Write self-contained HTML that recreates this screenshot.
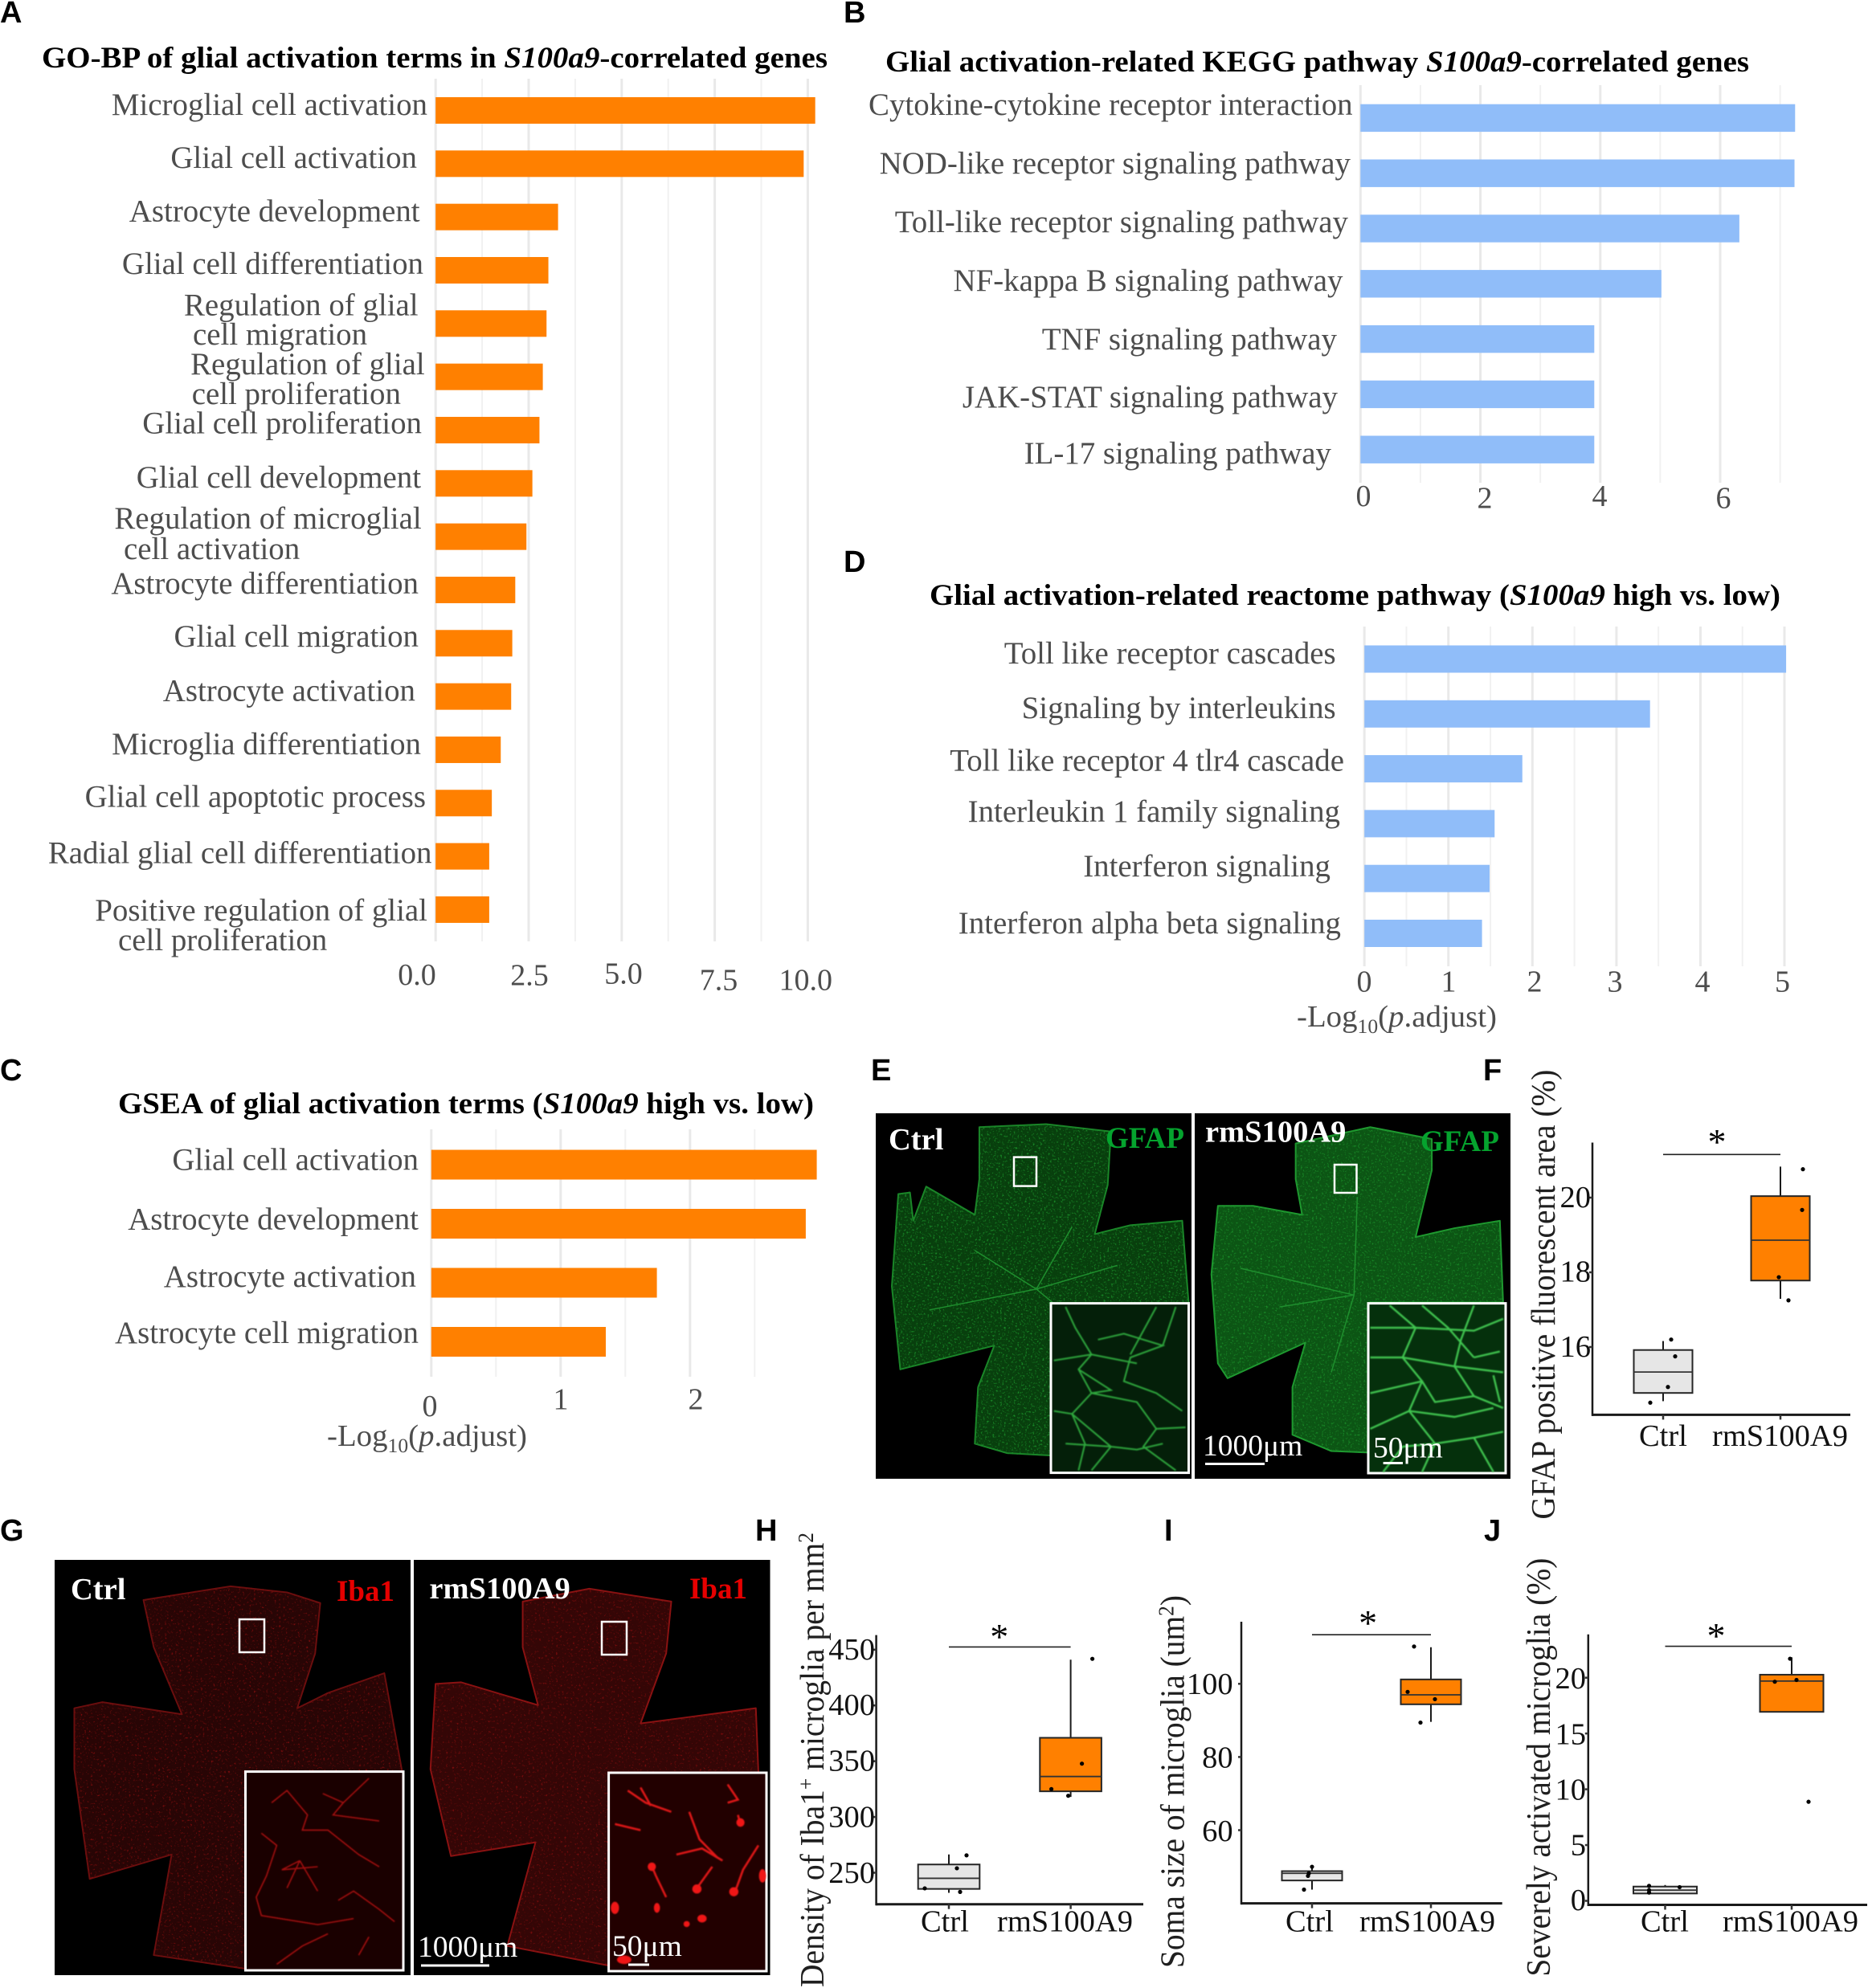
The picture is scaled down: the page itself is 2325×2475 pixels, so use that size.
<!DOCTYPE html>
<html lang="en">
<head>
<meta charset="utf-8">
<title>S100a9 glial activation figure</title>
<style>
html,body{margin:0;padding:0;background:#fff;}
svg{display:block;font-family:"Liberation Serif",serif;}
.letter{font-family:"Liberation Sans",sans-serif;font-weight:700;font-size:38px;fill:#000;}
.title{font-weight:700;font-size:36.5px;fill:#000;}
.cat{font-size:38.9px;fill:#4d4d4d;}
.tick{font-size:38px;fill:#4d4d4d;}
.axt{font-size:38px;fill:#4d4d4d;}
.bt{font-size:38.5px;fill:#111;}
.yt{font-size:42px;fill:#1f1f1f;}
.star{font-size:46px;fill:#000;text-anchor:middle;}
.w{font-weight:700;font-size:38.5px;fill:#fff;}
.gf{font-weight:700;font-size:37px;fill:#05a32e;}
.ib{font-weight:700;font-size:37px;fill:#e60000;}
.sc{font-size:37.5px;fill:#fff;}
</style>
</head>
<body>
<svg xmlns="http://www.w3.org/2000/svg" id="figure" width="2325" height="2475" viewBox="0 0 2325 2475">
<defs>
<filter id="speckle-green" color-interpolation-filters="sRGB">
<feTurbulence type="fractalNoise" baseFrequency="0.42" numOctaves="2" seed="3" result="n"/>
<feColorMatrix in="n" type="matrix" values="0 0 0 0 0.1  0 0 0 0 0.55  0 0 0 0 0.16  4 0 0 0 -2.25" result="k"/>
<feComposite in="k" in2="SourceAlpha" operator="in" result="c"/>
<feMerge><feMergeNode in="SourceGraphic"/><feMergeNode in="c"/></feMerge>
</filter>
<filter id="speckle-red" color-interpolation-filters="sRGB">
<feTurbulence type="fractalNoise" baseFrequency="0.38" numOctaves="2" seed="8" result="n"/>
<feColorMatrix in="n" type="matrix" values="0 0 0 0 0.5  0 0 0 0 0.05  0 0 0 0 0.05  4 0 0 0 -2.4" result="k"/>
<feComposite in="k" in2="SourceAlpha" operator="in" result="c"/>
<feMerge><feMergeNode in="SourceGraphic"/><feMergeNode in="c"/></feMerge>
</filter>
<filter id="soft" x="-5%" y="-5%" width="110%" height="110%"><feGaussianBlur stdDeviation="0.7"/></filter>
</defs>
<rect x="0" y="0" width="2325" height="2475" fill="#fff"/>

<g id="marks-a"></g>
<g id="marks-b"></g>
<g id="marks-c"></g>
<g id="marks-d"></g>

<!-- panel letters -->
<text class="letter" x="0" y="28">A</text>
<text class="letter" x="1050" y="28">B</text>
<text class="letter" x="0" y="1345">C</text>
<text class="letter" x="1050" y="712">D</text>
<text class="letter" x="1084" y="1345">E</text>
<text class="letter" x="1846" y="1345">F</text>
<text class="letter" x="0" y="1918">G</text>
<text class="letter" x="940" y="1918">H</text>
<text class="letter" x="1449" y="1918">I</text>
<text class="letter" x="1847" y="1918">J</text>

<!-- titles -->
<text class="title" x="52" y="84" textLength="978" lengthAdjust="spacingAndGlyphs">GO-BP of glial activation terms in <tspan font-style="italic">S100a9</tspan>-correlated genes</text>
<text class="title" x="1102" y="89" textLength="1075" lengthAdjust="spacingAndGlyphs">Glial activation-related KEGG pathway <tspan font-style="italic">S100a9</tspan>-correlated genes</text>
<text class="title" x="147" y="1386" textLength="866" lengthAdjust="spacingAndGlyphs">GSEA of glial activation terms (<tspan font-style="italic">S100a9</tspan> high vs. low)</text>
<text class="title" x="1157" y="753" textLength="1059" lengthAdjust="spacingAndGlyphs">Glial activation-related reactome pathway (<tspan font-style="italic">S100a9</tspan> high vs. low)</text>

<!-- chart A labels -->
<g text-anchor="end" class="cat">
<text x="532" y="143">Microglial cell activation</text>
<text x="519" y="209">Glial cell activation</text>
<text x="522.6" y="275.5">Astrocyte development</text>
<text x="527" y="341">Glial cell differentiation</text>
<text x="520.6" y="392.6">Regulation of glial</text>
<text x="240" y="429" text-anchor="start">cell migration</text>
<text x="528.7" y="466">Regulation of glial</text>
<text x="238.7" y="503" text-anchor="start">cell proliferation</text>
<text x="525" y="539.6">Glial cell proliferation</text>
<text x="524" y="607">Glial cell development</text>
<text x="524.7" y="658">Regulation of microglial</text>
<text x="154" y="696" text-anchor="start">cell activation</text>
<text x="521" y="739">Astrocyte differentiation</text>
<text x="521" y="805">Glial cell migration</text>
<text x="517" y="872.6">Astrocyte activation</text>
<text x="524" y="938.8">Microglia differentiation</text>
<text x="530" y="1004.5">Glial cell apoptotic process</text>
<text x="537.5" y="1074.7">Radial glial cell differentiation</text>
<text x="532" y="1146">Positive regulation of glial</text>
<text x="147" y="1183" text-anchor="start">cell proliferation</text>
</g>
<g class="tick" text-anchor="middle">
<text x="519" y="1226">0.0</text>
<text x="659" y="1226.5">2.5</text>
<text x="776" y="1224.5">5.0</text>
<text x="894.5" y="1232.6">7.5</text>
<text x="1002.7" y="1232.6">10.0</text>
</g>

<!-- chart B labels -->
<g text-anchor="end" class="cat">
<text x="1683.6" y="143">Cytokine-cytokine receptor interaction</text>
<text x="1681" y="216">NOD-like receptor signaling pathway</text>
<text x="1678" y="289">Toll-like receptor signaling pathway</text>
<text x="1671.5" y="362">NF-kappa B signaling pathway</text>
<text x="1664" y="434.8">TNF signaling pathway</text>
<text x="1665" y="507">JAK-STAT signaling pathway</text>
<text x="1657" y="577">IL-17 signaling pathway</text>
</g>
<g class="tick" text-anchor="middle">
<text x="1697" y="630">0</text>
<text x="1848" y="632.6">2</text>
<text x="1991" y="630">4</text>
<text x="2145" y="632.6">6</text>
</g>

<!-- chart C labels -->
<g text-anchor="end" class="cat">
<text x="521" y="1456.7">Glial cell activation</text>
<text x="521" y="1530.7">Astrocyte development</text>
<text x="518" y="1602">Astrocyte activation</text>
<text x="521" y="1672">Astrocyte cell migration</text>
</g>
<g class="tick" text-anchor="middle">
<text x="535" y="1763">0</text>
<text x="698" y="1754.5">1</text>
<text x="866" y="1754.5">2</text>
</g>
<text class="axt" x="407" y="1800" textLength="249" lengthAdjust="spacingAndGlyphs">-Log<tspan font-size="25" dy="8">10</tspan><tspan dy="-8">(</tspan><tspan font-style="italic">p</tspan>.adjust)</text>

<!-- chart D labels -->
<g text-anchor="end" class="cat">
<text x="1662.7" y="826">Toll like receptor cascades</text>
<text x="1662.7" y="894">Signaling by interleukins</text>
<text x="1673" y="959.7">Toll like receptor 4 tlr4 cascade</text>
<text x="1668" y="1023">Interleukin 1 family signaling</text>
<text x="1656" y="1091">Interferon signaling</text>
<text x="1669" y="1162">Interferon alpha beta signaling</text>
</g>
<g class="tick" text-anchor="middle">
<text x="1698" y="1234.5">0</text>
<text x="1803" y="1234.5">1</text>
<text x="1910" y="1234.5">2</text>
<text x="2010" y="1234.5">3</text>
<text x="2119" y="1234.5">4</text>
<text x="2218.5" y="1234.5">5</text>
</g>
<text class="axt" x="1614" y="1278" textLength="249" lengthAdjust="spacingAndGlyphs">-Log<tspan font-size="25" dy="8">10</tspan><tspan dy="-8">(</tspan><tspan font-style="italic">p</tspan>.adjust)</text>

<!-- panel E images -->
<g>
<rect x="1090" y="1386" width="393" height="455" fill="#000"/>
<rect x="1487" y="1386" width="393" height="455" fill="#000"/>
<g filter="url(#speckle-green)"><g transform="translate(1060,1320) scale(0.8068,0.37)"><polygon fill="#083f0d" stroke="#1a8528" stroke-width="2" stroke-linejoin="round" vector-effect="non-scaling-stroke" points="197,225 300,215 400,240 395,420 375,585 430,555 510,540 520,820 310,820 310,1330 240,1322 190,1290 195,1100 220,960 75,1040 62,760 72,450 90,445 95,540 115,425 190,520 197,400"/></g></g>
<g filter="url(#speckle-green)"><g transform="translate(1060,1320) scale(0.8068,0.37)"><polygon fill="#0c5514" stroke="#1f9a30" stroke-width="2" stroke-linejoin="round" vector-effect="non-scaling-stroke" points="685,280 800,225 895,265 895,370 870,595 930,565 1000,540 1005,815 800,815 797,1320 740,1315 680,1260 680,1100 700,950 580,1070 565,1020 555,720 565,490 620,490 695,520 685,400"/></g></g>
<g transform="translate(1060,1320) scale(0.8068,0.37)" fill="none" stroke="#1f8f2e" stroke-width="1.5">
<path vector-effect="non-scaling-stroke" d="M285 770 L190 640 M285 770 L340 560 M285 770 L120 840 M285 770 L310 815 M285 770 L410 690"/>
<path vector-effect="non-scaling-stroke" d="M775 790 L780 460 M775 790 L660 830 M775 790 L740 1050 M775 790 L600 700"/>
</g>
<rect x="1308" y="1622.6" width="171.5" height="211" fill="#041f09" stroke="#fff" stroke-width="3"/>
<rect x="1703" y="1622.6" width="171" height="211.4" fill="#05300c" stroke="#fff" stroke-width="3"/>
<g filter="url(#soft)"><g transform="translate(1060,1320) scale(0.8068,0.37)" fill="none" stroke="#2fa83e" stroke-width="2">
<path vector-effect="non-scaling-stroke" d="M330 830 L345 900 L370 990 L350 1040 L370 1120 L340 1190 L360 1290 L350 1380"/>
<path vector-effect="non-scaling-stroke" d="M380 940 L420 920 L480 960 L430 1000 L420 1080 L470 1120 L510 1180"/>
<path vector-effect="non-scaling-stroke" d="M312 1010 L370 990 L440 1020"/>
<path vector-effect="non-scaling-stroke" d="M350 1040 L400 1110 L370 1120 L440 1150 L470 1240 L515 1235"/>
<path vector-effect="non-scaling-stroke" d="M470 830 L430 990"/>
<path vector-effect="non-scaling-stroke" d="M312 1180 L340 1190 L400 1300 L440 1310 L480 1290"/>
<path vector-effect="non-scaling-stroke" d="M400 1300 L370 1380 M470 1240 L450 1300 L500 1380 M500 830 L480 960 M330 1290 L400 1300"/>
</g></g>
<g filter="url(#soft)"><g transform="translate(1060,1320) scale(0.8068,0.37)" fill="none" stroke="#3fc44f" stroke-width="2.4">
<path vector-effect="non-scaling-stroke" d="M830 825 L870 900 L850 1000 L880 1080 L860 1180 L900 1290 L880 1385"/>
<path vector-effect="non-scaling-stroke" d="M800 900 L870 900 L960 910 L1005 870"/>
<path vector-effect="non-scaling-stroke" d="M800 1000 L850 1000 L930 1030 L1005 1050"/>
<path vector-effect="non-scaling-stroke" d="M960 825 L940 940 L930 1030 L960 1130 L1005 1170"/>
<path vector-effect="non-scaling-stroke" d="M800 1120 L880 1080 L900 1150 L960 1130"/>
<path vector-effect="non-scaling-stroke" d="M800 1240 L860 1180 L930 1200 L990 1170"/>
<path vector-effect="non-scaling-stroke" d="M900 1290 L960 1270 L1005 1250 M960 1270 L990 1385 M820 1385 L850 1300 L900 1290"/>
<path vector-effect="non-scaling-stroke" d="M880 825 L920 900 L960 1000 M1000 980 L960 1000 M990 1060 L1000 1150"/>
</g></g>
<rect x="1262" y="1440.6" width="28" height="36" fill="none" stroke="#fff" stroke-width="2.5"/>
<rect x="1661" y="1450" width="27.5" height="35" fill="none" stroke="#fff" stroke-width="2.5"/>
<text class="w" x="1106" y="1431">Ctrl</text>
<text class="gf" x="1376" y="1429">GFAP</text>
<text class="w" x="1500" y="1421.7">rmS100A9</text>
<text class="gf" x="1768" y="1433">GFAP</text>
<text class="sc" x="1497" y="1812">1000μm</text>
<rect x="1500" y="1821" width="74" height="3" fill="#fff"/>
<text class="sc" x="1709" y="1814.6">50μm</text>
<rect x="1721.6" y="1820" width="24.4" height="3" fill="#fff"/>
</g>

<!-- panel G images -->
<g>
<rect x="68" y="1942" width="443" height="517" fill="#000"/>
<rect x="515" y="1942" width="443.5" height="517" fill="#000"/>
<g filter="url(#speckle-red)"><g transform="translate(0,1880) scale(0.6378,0.3795)"><polygon fill="#280505" stroke="#6a0e0e" stroke-width="2" stroke-linejoin="round" vector-effect="non-scaling-stroke" points="280,295 450,250 560,270 625,305 615,470 580,650 640,600 750,535 785,860 480,860 480,1505 300,1460 335,1130 175,1210 145,850 145,650 200,630 355,670 300,450"/></g></g>
<g filter="url(#speckle-red)"><g transform="translate(0,1880) scale(0.6378,0.3795)"><polygon fill="#340606" stroke="#8a1212" stroke-width="2" stroke-linejoin="round" vector-effect="non-scaling-stroke" points="1020,300 1150,258 1310,300 1300,470 1250,700 1340,680 1475,650 1480,860 1190,865 1190,1495 990,1430 1045,1090 880,1135 840,850 850,570 900,565 1050,640 1020,450"/></g></g>
<rect x="305.5" y="2205.6" width="196.5" height="247.4" fill="#1a0000" stroke="#fff" stroke-width="3"/>
<rect x="757.6" y="2207" width="196.4" height="247" fill="#220000" stroke="#fff" stroke-width="3"/>
<g filter="url(#soft)"><g transform="translate(0,1880) scale(0.6378,0.3795)" fill="none" stroke="#a81010" stroke-width="1.6">
<path vector-effect="non-scaling-stroke" d="M530 960 L560 920 L600 1000 L590 1050 L640 1050 L700 1130 L740 1170"/>
<path vector-effect="non-scaling-stroke" d="M630 930 L670 960 L720 880 M670 960 L650 1000 L740 1020"/>
<path vector-effect="non-scaling-stroke" d="M510 1060 L540 1100 L520 1200 L500 1270 L510 1330 L620 1360 L690 1340"/>
<path vector-effect="non-scaling-stroke" d="M585 1150 L560 1240 M585 1150 L620 1250 M585 1150 L550 1180 L620 1170"/>
<path vector-effect="non-scaling-stroke" d="M660 1280 L690 1250 L740 1310 L770 1350 M720 1400 L700 1460 M540 1490 L590 1430 L640 1390"/>
</g></g>
<g filter="url(#soft)"><g transform="translate(0,1880) scale(0.6378,0.3795)" fill="none" stroke="#e01414" stroke-width="2.6">
<path vector-effect="non-scaling-stroke" d="M1225 920 L1260 960 L1310 990 M1250 910 L1270 970"/>
<path vector-effect="non-scaling-stroke" d="M1345 990 L1365 1080 L1400 1140 M1420 900 L1440 950 L1420 960"/>
<path vector-effect="non-scaling-stroke" d="M1200 1030 L1250 1050 M1320 1130 L1370 1110 L1410 1150"/>
<path vector-effect="non-scaling-stroke" d="M1390 1170 L1360 1240 M1270 1160 L1280 1200 L1300 1270 M1440 1000 L1445 1030 M1480 1100 L1450 1180 L1435 1250"/>
<g fill="#f01818" stroke="none">
<ellipse cx="1272" cy="1170" rx="8" ry="14"/><ellipse cx="1445" cy="1025" rx="8" ry="14"/><ellipse cx="1360" cy="1243" rx="9" ry="15"/>
<ellipse cx="1432" cy="1252" rx="9" ry="15"/><ellipse cx="1370" cy="1340" rx="9" ry="13"/><ellipse cx="1282" cy="1305" rx="6" ry="16"/>
<ellipse cx="1200" cy="1305" rx="8" ry="20"/><ellipse cx="1488" cy="1200" rx="7" ry="22"/><ellipse cx="1340" cy="1358" rx="6" ry="10"/><ellipse cx="1218" cy="1475" rx="14" ry="14"/>
</g>
</g></g>
<rect x="298" y="2016" width="31" height="41" fill="none" stroke="#fff" stroke-width="2.5"/>
<rect x="749" y="2019" width="31" height="41" fill="none" stroke="#fff" stroke-width="2.5"/>
<text class="w" x="88" y="1991">Ctrl</text>
<text class="ib" x="419" y="1993">Iba1</text>
<text class="w" x="534.4" y="1990">rmS100A9</text>
<text class="ib" x="858" y="1990">Iba1</text>
<text class="sc" x="520" y="2436">1000μm</text>
<rect x="524" y="2445.5" width="85" height="3" fill="#fff"/>
<text class="sc" x="762" y="2435">50μm</text>
<rect x="782" y="2444.5" width="26" height="3" fill="#fff"/>
</g>

<g id="marks-f"></g>
<g id="marks-h"></g>
<g id="marks-i"></g>
<g id="marks-j"></g>

<!-- boxplot F text -->
<text class="yt" transform="translate(1935,1891.6) rotate(-90)" x="0" y="0" textLength="560" lengthAdjust="spacingAndGlyphs">GFAP positive fluorescent area (%)</text>
<g class="bt" text-anchor="end">
<text x="1980" y="1503">20</text>
<text x="1980" y="1595.6">18</text>
<text x="1980" y="1689">16</text>
</g>
<text class="bt" x="2040" y="1800">Ctrl</text>
<text class="bt" x="2131" y="1800">rmS100A9</text>
<text class="star" x="2137" y="1437">*</text>

<!-- boxplot H text -->
<text class="yt" transform="translate(1025,2474) rotate(-90)" x="0" y="0" textLength="566" lengthAdjust="spacingAndGlyphs">Density of Iba1<tspan font-size="27" dy="-13">+</tspan><tspan dy="13"> microglia per mm</tspan><tspan font-size="27" dy="-13">2</tspan></text>
<g class="bt" text-anchor="end">
<text x="1089" y="2066">450</text>
<text x="1089" y="2135">400</text>
<text x="1089" y="2204.5">350</text>
<text x="1089" y="2274.7">300</text>
<text x="1089" y="2343.8">250</text>
</g>
<text class="bt" x="1146" y="2404.5">Ctrl</text>
<text class="bt" x="1241" y="2404.5">rmS100A9</text>
<text class="star" x="1243.8" y="2053">*</text>

<!-- boxplot I text -->
<text class="yt" transform="translate(1473.6,2450) rotate(-90)" x="0" y="0" textLength="464" lengthAdjust="spacingAndGlyphs">Soma size of microglia (um<tspan font-size="27" dy="-13">2</tspan><tspan dy="13">)</tspan></text>
<g class="bt" text-anchor="end">
<text x="1534.6" y="2108.8">100</text>
<text x="1534.6" y="2200.7">80</text>
<text x="1534.6" y="2291.8">60</text>
</g>
<text class="bt" x="1600" y="2404.5">Ctrl</text>
<text class="bt" x="1692" y="2404.5">rmS100A9</text>
<text class="star" x="1702.6" y="2036">*</text>

<!-- boxplot J text -->
<text class="yt" transform="translate(1929,2460.6) rotate(-90)" x="0" y="0" textLength="521" lengthAdjust="spacingAndGlyphs">Severely activated microglia (%)</text>
<g class="bt" text-anchor="end">
<text x="1974" y="2102">20</text>
<text x="1974" y="2171.5">15</text>
<text x="1974" y="2240.5">10</text>
<text x="1974" y="2309.6">5</text>
<text x="1974" y="2378">0</text>
</g>
<text class="bt" x="2042" y="2404.5">Ctrl</text>
<text class="bt" x="2144" y="2404.5">rmS100A9</text>
<text class="star" x="2136" y="2052">*</text>
</svg>

<script>
// ---------- chart data ----------
const aCategories = ['Microglial cell activation','Glial cell activation','Astrocyte development','Glial cell differentiation','Regulation of glial cell migration','Regulation of glial cell proliferation','Glial cell proliferation','Glial cell development','Regulation of microglial cell activation','Astrocyte differentiation','Glial cell migration','Astrocyte activation','Microglia differentiation','Glial cell apoptotic process','Radial glial cell differentiation','Positive regulation of glial cell proliferation'];
const aValues = [10.2,9.89,3.29,3.03,2.98,2.88,2.79,2.6,2.44,2.14,2.06,2.03,1.75,1.51,1.44,1.44];
const aMajorTicks = [0,2.5,5,7.5,10];
const aMinorTicks = [1.25,3.75,6.25,8.75];

const bCategories = ['Cytokine-cytokine receptor interaction','NOD-like receptor signaling pathway','Toll-like receptor signaling pathway','NF-kappa B signaling pathway','TNF signaling pathway','JAK-STAT signaling pathway','IL-17 signaling pathway'];
const bValues = [7.25,7.24,6.32,5.02,3.9,3.9,3.9];
const bMajorTicks = [0,2,4,6];
const bMinorTicks = [1,3,5,7];

const cCategories = ['Glial cell activation','Astrocyte development','Astrocyte activation','Astrocyte cell migration'];
const cValues = [2.98,2.895,1.744,1.349];
const cMajorTicks = [0,1,2];
const cMinorTicks = [0.5,1.5,2.5];

const dCategories = ['Toll like receptor cascades','Signaling by interleukins','Toll like receptor 4 tlr4 cascade','Interleukin 1 family signaling','Interferon signaling','Interferon alpha beta signaling'];
const dValues = [5.02,3.40,1.88,1.55,1.49,1.40];
const dMajorTicks = [0,1,2,3,4,5];
const dMinorTicks = [0.5,1.5,2.5,3.5,4.5];

// box stats are: lower whisker, Q1, median, Q3, upper whisker
const groups = ['Ctrl','rmS100A9'];
const fCtrlStats = [14.55,14.77,15.33,15.92,16.16];
const fRmStats = [17.29,17.78,18.86,20.04,20.83];
const fCtrlPoints = [16.2,15.75,14.93,14.51];
const fRmPoints = [20.76,19.67,17.87,17.25];
const fTicks = [16,18,20];

const hCtrlStats = [232,235.5,245,257.4,266.4];
const hRmStats = [318,323,336.3,371,441];
const hCtrlPoints = [265.6,254,236,232.8];
const hRmPoints = [441.8,347.8,325,319];
const hTicks = [250,300,350,400,450];

const iCtrlStats = [43.75,46.25,48.2,48.8,50.25];
const iRmStats = [89.6,94.4,97,101.2,110];
const iCtrlPoints = [50,48.2,47.5,43.75];
const iRmPoints = [110.2,97.8,95.8,89.4];
const iTicks = [60,80,100];

const jCtrlStats = [0.66,0.66,0.96,1.28,1.42];
const jRmStats = [16.94,16.94,19.7,20.27,21.83];
const jCtrlPoints = [1.34,0.74,1.23,0.96];
const jRmPoints = [21.7,19.8,19.64,8.88];
const jTicks = [0,5,10,15,20];

// ---------- helpers ----------
const SVGNS = 'http://www.w3.org/2000/svg';
function svgEl(tag, attrs, parent) {
  const el = document.createElementNS(SVGNS, tag);
  for (const k in attrs) el.setAttribute(k, attrs[k]);
  parent.appendChild(el);
  return el;
}
function linear(d0, d1, r0, r1) {
  return function (v) { return r0 + (v - d0) * (r1 - r0) / (d1 - d0); };
}
function slug(s) { return String(s).toLowerCase().replace(/[^a-z0-9]+/g, '-').replace(/^-|-$/g, ''); }

function drawBars(id, cats, vals, majors, minors, cfg) {
  const g = document.getElementById(id);
  const x = linear(0, cfg.refValue, cfg.x0, cfg.refX);
  const y = function (i) { return cfg.firstY + i * cfg.step; };
  minors.forEach(function (t) {
    const line = svgEl('line', {x1: x(t), x2: x(t), y1: cfg.gridTop, y2: cfg.gridBottom, stroke: '#f1f1f1', 'stroke-width': 2}, g);
    
    
  });
  majors.forEach(function (t) {
    const line = svgEl('line', {x1: x(t), x2: x(t), y1: cfg.gridTop, y2: cfg.gridBottom, stroke: '#e9e9e9', 'stroke-width': 3}, g);
    
    
  });
  vals.forEach(function (v, i) {
    const bar = svgEl('rect', {x: x(0), y: y(i) - cfg.barH / 2, width: x(v) - x(0), height: cfg.barH, fill: cfg.color}, g);
    
    
  });
}

function drawBox(id, cfg) {
  const g = document.getElementById(id);
  const y = linear(cfg.refA[0], cfg.refB[0], cfg.refA[1], cfg.refB[1]);
  const xPos = linear(0, 1, cfg.ctrlX, cfg.rmX);
  const ink = '#1a1a1a';

  const yAxis = svgEl('line', {x1: cfg.axisX, x2: cfg.axisX, y1: cfg.axisTop, y2: cfg.axisY + 1.5, stroke: ink, 'stroke-width': 2.5}, g);
  
  
  const xAxis = svgEl('line', {x1: cfg.axisX, x2: cfg.axisRight, y1: cfg.axisY, y2: cfg.axisY, stroke: ink, 'stroke-width': 3}, g);
  
  

  cfg.ticks.forEach(function (t) {
    const tick = svgEl('line', {x1: cfg.axisX - 4, x2: cfg.axisX, y1: y(t), y2: y(t), stroke: '#333', 'stroke-width': 2.5}, g);
    
    
  });

  const bracket = svgEl('line', {x1: xPos(0), x2: xPos(1), y1: cfg.bracketY, y2: cfg.bracketY, stroke: '#222', 'stroke-width': 1.6}, g);
  
  

  cfg.series.forEach(function (s, i) {
    const cx = xPos(i);
    const tick = svgEl('line', {x1: cx, x2: cx, y1: cfg.axisY, y2: cfg.axisY + 6, stroke: '#333', 'stroke-width': 2.5}, g);
    
    

    const whisker = svgEl('line', {x1: cx, x2: cx, y1: y(s.stats[0]), y2: y(s.stats[4]), stroke: ink, 'stroke-width': 2}, g);
    
    

    const box = svgEl('rect', {x: cx - cfg.boxW / 2, y: y(s.stats[3]), width: cfg.boxW, height: y(s.stats[1]) - y(s.stats[3]), fill: s.fill, stroke: '#262626', 'stroke-width': 2}, g);
    
    

    const med = svgEl('line', {x1: cx - cfg.boxW / 2, x2: cx + cfg.boxW / 2, y1: y(s.stats[2]), y2: y(s.stats[2]), stroke: '#333', 'stroke-width': 1.8}, g);
    
    

    s.points.forEach(function (p, k) {
      const dot = svgEl('circle', {cx: cx + s.jitter[k], cy: y(p), r: 2.6, fill: '#000'}, g);
      
      
    });
  });
}

// ---------- draw ----------
const ORANGE = '#ff8000';
const BLUE = '#90bdf9';
drawBars('marks-a', aCategories, aValues, aMajorTicks, aMinorTicks, {refValue: 10, x0: 542.2, refX: 1005.4, firstY: 137.5, step: 66.33, barH: 33, gridTop: 98, gridBottom: 1172, color: ORANGE});
drawBars('marks-b', bCategories, bValues, bMajorTicks, bMinorTicks, {refValue: 6, x0: 1693.3, refX: 2141, firstY: 146.9, step: 68.8, barH: 34.4, gridTop: 106, gridBottom: 601, color: BLUE});
drawBars('marks-c', cCategories, cValues, cMajorTicks, cMinorTicks, {refValue: 2, x0: 536.8, refX: 858.8, firstY: 1450, step: 73.5, barH: 37, gridTop: 1406, gridBottom: 1714, color: ORANGE});
drawBars('marks-d', dCategories, dValues, dMajorTicks, dMinorTicks, {refValue: 5, x0: 1698.2, refX: 2221, firstY: 820.5, step: 68.3, barH: 34, gridTop: 780, gridBottom: 1203, color: BLUE});

drawBox('marks-f', {refA: [20, 1491], refB: [16, 1677], ctrlX: 2070, rmX: 2216, boxW: 73, axisX: 1982, axisTop: 1422.5, axisY: 1761.4, axisRight: 2303, bracketY: 1437.3, ticks: fTicks, series: [
  {stats: fCtrlStats, points: fCtrlPoints, fill: '#e6e6e6', jitter: [10, 15, 6, -16]},
  {stats: fRmStats, points: fRmPoints, fill: ORANGE, jitter: [28, 27, -2, 10]}
]});
drawBox('marks-h', {refA: [450, 2053.8], refB: [250, 2331.5], ctrlX: 1181, rmX: 1332.6, boxW: 76.6, axisX: 1090.6, axisTop: 2035.6, axisY: 2370.7, axisRight: 1423, bracketY: 2050.4, ticks: hTicks, series: [
  {stats: hCtrlStats, points: hCtrlPoints, fill: '#e6e6e6', jitter: [22, 10, -30, 14]},
  {stats: hRmStats, points: hRmPoints, fill: ORANGE, jitter: [27, 14, -24, -3]}
]});
drawBox('marks-i', {refA: [100, 2096.3], refB: [60, 2278.5], ctrlX: 1633, rmX: 1781, boxW: 75, axisX: 1545, axisTop: 2019, axisY: 2369.6, axisRight: 1869.7, bracketY: 2035.2, ticks: iTicks, series: [
  {stats: iCtrlStats, points: iCtrlPoints, fill: '#e6e6e6', jitter: [0, -4, -5, -10]},
  {stats: iRmStats, points: iRmPoints, fill: ORANGE, jitter: [-21, -29, 5, -13]}
]});
drawBox('marks-j', {refA: [0, 2366.5], refB: [20, 2088.7], ctrlX: 2072.5, rmX: 2230, boxW: 79, axisX: 1976.8, axisTop: 2034.8, axisY: 2371.5, axisRight: 2324, bracketY: 2049.6, ticks: jTicks, series: [
  {stats: jCtrlStats, points: jCtrlPoints, fill: '#e6e6e6', jitter: [-20, -20, 18, -20]},
  {stats: jRmStats, points: jRmPoints, fill: ORANGE, jitter: [-2, 6, -21, 21]}
]});
</script>
</body>
</html>
